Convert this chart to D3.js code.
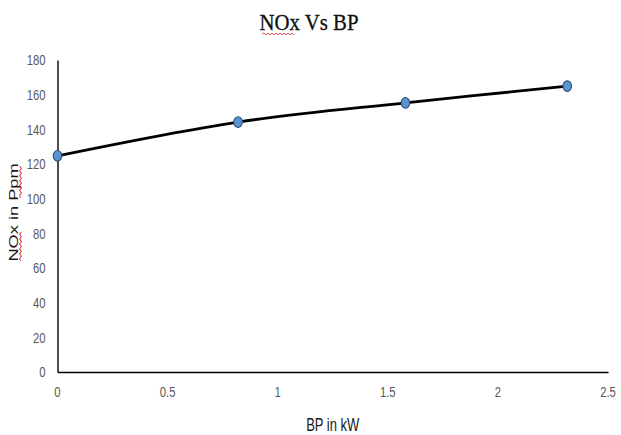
<!DOCTYPE html>
<html>
<head>
<meta charset="utf-8">
<script src="https://cdn.jsdelivr.net/npm/d3@7"></script>
<style>
  html, body { margin: 0; padding: 0; background: #fff; }
  svg { display: block; }
</style>
</head>
<body>
<svg id="chart" width="621" height="435"></svg>
<script>
// NOx emission against brake power
const bpValues = [0, 0.82, 1.58, 2.315];
const noxValues = [124.7, 144.2, 155.3, 164.9];
const xTicks = [0, 0.5, 1, 1.5, 2, 2.5];
const yTicks = [0, 20, 40, 60, 80, 100, 120, 140, 160, 180];
const titleText = "NOx Vs BP";
const xLabel = "BP in kW";
const yLabel = "NOx in Ppm";

const svg = d3.select("#chart");
const plot = { left: 57.5, right: 608, top: 60, bottom: 372 };

const x = d3.scaleLinear().domain([0, 2.5]).range([plot.left, plot.right]);
const y = d3.scaleLinear().domain([0, 180]).range([plot.bottom, plot.top]);

const sans = "'Liberation Sans', Arial, sans-serif";
const tall = 1.35; // vertical stretch applied to the lettering

// Axis lines (no tick marks); labels are drawn separately below
const xAxis = svg.append("g")
  .attr("transform", `translate(0,${plot.bottom})`)
  .call(d3.axisBottom(x).tickValues(xTicks).tickSize(0).tickFormat(() => ""));
xAxis.select(".domain").attr("stroke", "#000").attr("stroke-width", 1.4);

const yAxis = svg.append("g")
  .attr("transform", `translate(${plot.left},0)`)
  .call(d3.axisLeft(y).tickValues(yTicks).tickSize(0).tickFormat(() => ""));
yAxis.select(".domain").attr("stroke", "#000").attr("stroke-width", 1.4);

// Tick labels
svg.append("g").selectAll("text")
  .data(xTicks)
  .join("text")
  .attr("transform", d => `translate(${x(d)},392) scale(1,${tall})`)
  .attr("dy", "0.35em")
  .attr("text-anchor", "middle")
  .style("font-family", sans)
  .style("font-size", "11.3px")
  .attr("fill", "#595959")
  .text(d => String(d));

svg.append("g").selectAll("text")
  .data(yTicks)
  .join("text")
  .attr("transform", d => `translate(${plot.left - 12},${y(d)}) scale(1,${tall})`)
  .attr("dy", "0.35em")
  .attr("text-anchor", "end")
  .style("font-family", sans)
  .style("font-size", "11.3px")
  .attr("fill", "#595959")
  .text(d => String(d));

// Smoothed series line
const pts = bpValues.map((v, i) => [v, noxValues[i]]);
const line = d3.line()
  .x(d => x(d[0]))
  .y(d => y(d[1]))
  .curve(d3.curveCatmullRom.alpha(0.5));

svg.append("path")
  .datum(pts)
  .attr("d", line)
  .attr("fill", "none")
  .attr("stroke", "#000")
  .attr("stroke-width", 2.8)
  .attr("stroke-linecap", "round");

// Markers
svg.append("g").selectAll("ellipse")
  .data(pts)
  .join("ellipse")
  .attr("cx", d => x(d[0]))
  .attr("cy", d => y(d[1]))
  .attr("rx", 4.3)
  .attr("ry", 5.3)
  .attr("fill", "#5b93cf")
  .attr("stroke", "#2c4f78")
  .attr("stroke-width", 1.1);

// Red spell-check style wavy underline
function wavy(x0, x1, y0, amp, step) {
  let d = `M${x0},${y0}`;
  let up = true;
  for (let xx = x0 + step; xx <= x1 + 0.01; xx += step) {
    d += ` L${xx},${y0 + (up ? -amp : amp)}`;
    up = !up;
  }
  return d;
}

// Title
svg.append("text")
  .attr("transform", "translate(309,30) scale(1,1.13)")
  .attr("text-anchor", "middle")
  .style("font-family", "'Liberation Serif', 'Times New Roman', serif")
  .style("font-size", "20.8px")
  .attr("fill", "#111")
  .attr("stroke", "#111")
  .attr("stroke-width", 0.3)
  .text(titleText);

svg.append("path")
  .attr("d", wavy(262, 294, 34, 1, 2))
  .attr("fill", "none")
  .attr("stroke", "#d22")
  .attr("stroke-width", 0.8);

// X axis title
svg.append("text")
  .attr("transform", `translate(${(plot.left + plot.right) / 2},431) scale(1,${tall})`)
  .attr("text-anchor", "middle")
  .style("font-family", sans)
  .style("font-size", "13px")
  .attr("fill", "#1a1a1a")
  .text(xLabel);

// Y axis title (rotated, stretched along its length)
const yl = svg.append("g").attr("transform", `translate(17.5,212.5) scale(1,${tall}) rotate(-90)`);
yl.append("text")
  .attr("x", 0)
  .attr("y", 0)
  .attr("text-anchor", "middle")
  .style("font-family", sans)
  .style("font-size", "13.5px")
  .attr("fill", "#1a1a1a")
  .text(yLabel);
yl.append("path")
  .attr("d", wavy(-36, -13, 3, 0.9, 1.8))
  .attr("fill", "none").attr("stroke", "#d22").attr("stroke-width", 0.8);
yl.append("path")
  .attr("d", wavy(11, 36, 3, 0.9, 1.8))
  .attr("fill", "none").attr("stroke", "#d22").attr("stroke-width", 0.8);
</script>
</body>
</html>
